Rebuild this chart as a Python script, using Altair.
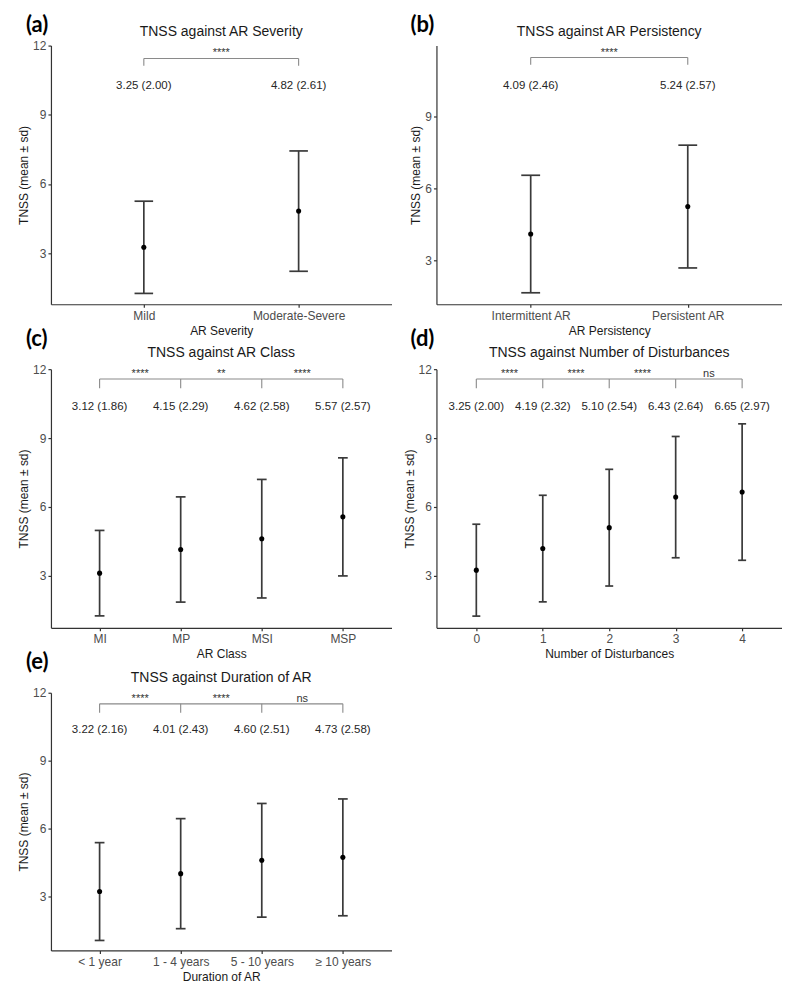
import altair as alt
import pandas as pd

# ---------------- data ----------------
a_cats = ["Mild", "Moderate-Severe"]
a_mean = [3.25, 4.82]
a_sd = [2.00, 2.61]
a_sig = ["****"]

b_cats = ["Intermittent AR", "Persistent AR"]
b_mean = [4.09, 5.24]
b_sd = [2.46, 2.57]
b_sig = ["****"]

c_cats = ["MI", "MP", "MSI", "MSP"]
c_mean = [3.12, 4.15, 4.62, 5.57]
c_sd = [1.86, 2.29, 2.58, 2.57]
c_sig = ["****", "**", "****"]

d_cats = ["0", "1", "2", "3", "4"]
d_mean = [3.25, 4.19, 5.10, 6.43, 6.65]
d_sd = [2.00, 2.32, 2.54, 2.64, 2.97]
d_sig = ["****", "****", "****", "ns"]

e_cats = ["< 1 year", "1 - 4 years", "5 - 10 years", "≥ 10 years"]
e_mean = [3.22, 4.01, 4.60, 4.73]
e_sd = [2.16, 2.43, 2.51, 2.58]
e_sig = ["****", "****", "ns"]

FONT = "Liberation Sans"
YTITLE = "TNSS (mean ± sd)"


def panel(letter, title, xtitle, cats, means, sds, sigs, ydomain, yticks,
          width, height, letter_dx, letter_dy, title_dy,
          br_y, br_low, lab_y):
    n = len(cats)
    df = pd.DataFrame({"i": list(range(n)), "mean": means, "sd": sds})
    df["lo"] = df["mean"] - df["sd"]
    df["hi"] = df["mean"] + df["sd"]
    df["cl"] = df["i"] - 0.06
    df["cr"] = df["i"] + 0.06
    df["lab"] = [f"{m:.2f} ({s:.2f})" for m, s in zip(means, sds)]
    df["ly"] = lab_y
    df["by"] = br_y
    df["bl"] = br_low

    labels_js = "[" + ",".join("'" + c + "'" for c in cats) + "]"
    xscale = alt.Scale(domain=[-0.6, n - 0.4], nice=False, zero=False)
    yscale = alt.Scale(domain=ydomain, nice=False, zero=False)
    xax = alt.Axis(values=list(range(n)), labelExpr=labels_js + "[datum.value]",
                   title=xtitle, labelOverlap=False, labelFlush=False,
                   titlePadding=4, labelPadding=3)
    yax = alt.Axis(values=yticks, title=YTITLE, labelFlush=False)

    def X(f):
        return alt.X(f, type="quantitative", scale=xscale, axis=xax)

    def Y(f):
        return alt.Y(f, type="quantitative", scale=yscale, axis=yax)

    base = alt.Chart(df)
    err = base.mark_rule(color="#3a3a3a", strokeWidth=1.7).encode(
        x=X("i"), y=Y("lo"), y2="hi")
    cap_lo = base.mark_rule(color="#3a3a3a", strokeWidth=1.7).encode(
        x=X("cl"), x2="cr", y=Y("lo"))
    cap_hi = base.mark_rule(color="#3a3a3a", strokeWidth=1.7).encode(
        x=X("cl"), x2="cr", y=Y("hi"))
    pts = base.mark_circle(size=26, color="black", opacity=1).encode(
        x=X("i"), y=Y("mean"))
    txt = base.mark_text(font=FONT, fontSize=11.5, color="#262626",
                         baseline="middle").encode(
        x=X("i"), y=Y("ly"), text="lab:N")

    # brackets
    hb = pd.DataFrame({"x0": [0], "x1": [n - 1], "by": [br_y]})
    hline = alt.Chart(hb).mark_rule(color="#8a8a8a", strokeWidth=1.1).encode(
        x=X("x0"), x2="x1", y=Y("by"))
    vtick = base.mark_rule(color="#8a8a8a", strokeWidth=1.1).encode(
        x=X("i"), y=Y("bl"), y2="by")
    sdf = pd.DataFrame({"sx": [k + 0.5 for k in range(n - 1)], "sig": sigs,
                        "by": [br_y] * (n - 1)})
    stars = alt.Chart(sdf).mark_text(font=FONT, fontSize=11, color="#333333",
                                     baseline="alphabetic", dy=-2).encode(
        x=X("sx"), y=Y("by"), text="sig:N")

    ldf = pd.DataFrame({"t": [letter]})
    let = alt.Chart(ldf).mark_text(font="Lato", fontSize=22, fontWeight="bold",
                                   align="left", baseline="middle",
                                   color="black").encode(
        x=alt.value(letter_dx), y=alt.value(letter_dy), text="t:N")
    tdf = pd.DataFrame({"t": [title]})
    ttl = alt.Chart(tdf).mark_text(font=FONT, fontSize=14, align="center",
                                   baseline="middle", color="#1a1a1a").encode(
        x=alt.value(width / 2), y=alt.value(title_dy), text="t:N")

    return alt.layer(hline, vtick, stars, err, cap_lo, cap_hi, pts, txt,
                     let, ttl).properties(width=width, height=height)


W1, W2 = 341, 346
pa = panel("(a)", "TNSS against AR Severity", "AR Severity", a_cats, a_mean,
           a_sd, a_sig, [0.78, 12.0], [3, 6, 9, 12], W1, 259,
           -25, -21, -14, 11.44, 11.13, 10.25)
pb = panel("(b)", "TNSS against AR Persistency", "AR Persistency", b_cats,
           b_mean, b_sd, b_sig, [1.15, 11.98], [3, 6, 9], W2, 259,
           -26, -21, -14, 11.48, 11.18, 10.3)
pc = panel("(c)", "TNSS against AR Class", "AR Class", c_cats, c_mean, c_sd,
           c_sig, [0.74, 12.0], [3, 6, 9, 12], W1, 259,
           -25, -30, -16, 11.57, 11.17, 10.35)
pd_ = panel("(d)", "TNSS against Number of Disturbances",
            "Number of Disturbances", d_cats, d_mean, d_sd, d_sig,
            [0.74, 12.0], [3, 6, 9, 12], W2, 259,
            -26, -30, -16, 11.57, 11.17, 10.35)
pe = panel("(e)", "TNSS against Duration of AR", "Duration of AR", e_cats,
           e_mean, e_sd, e_sig, [0.62, 12.0], [3, 6, 9, 12], W1, 258,
           -25, -31, -15, 11.51, 11.12, 10.37)

chart = alt.concat(pa, pb, pc, pd_, pe, columns=2, bounds="flush",
                   spacing={"row": 65, "column": 45}).properties(
    padding={"left": 9, "top": 5, "right": 0, "bottom": 0},
    background="white"
).configure_axis(
    labelFont=FONT, titleFont=FONT, labelFontSize=12, titleFontSize=12,
    labelColor="#4d4d4d", titleColor="#1a1a1a", titleFontWeight="normal",
    domainColor="#333333", tickColor="#333333", domainWidth=1.2,
    tickWidth=1.2, tickSize=3, labelPadding=2, titlePadding=2, grid=False
).configure_view(stroke=None)

chart.save("out.html", embed_options={"renderer": "svg", "actions": False})
